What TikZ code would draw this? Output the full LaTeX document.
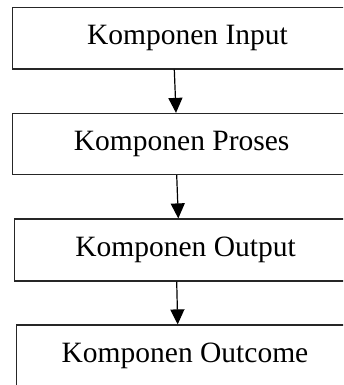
\documentclass[tikz,border=0pt]{standalone}
\usepackage{fontspec}
\setmainfont{Liberation Serif}
\usetikzlibrary{arrows.meta}
\begin{document}
\begin{tikzpicture}[x=1pt,y=1pt,
  box/.style={draw=black!85, line width=1.2pt, inner sep=0pt, rectangle,
    font=\fontsize{29.5pt}{34pt}\selectfont},
  flow/.style={line width=1.2pt, -{Triangle[length=15pt,width=14pt]}}]
\path[use as bounding box, clip] (0,0) rectangle (343,-385);
\fill[white] (0,0) rectangle (343,-385);
\node[box, minimum width=349.6pt, minimum height=61.7pt] (in) at (187.5,-38.15) {Komponen Input};
\node[box, minimum width=338pt, minimum height=61pt] (pr) at (181.7,-144) {Komponen Proses};
\node[box, minimum width=341.6pt, minimum height=62pt] (out) at (185.5,-250) {Komponen Output};
\node[box, minimum width=336.6pt, minimum height=62pt] (oc) at (185,-356) {Komponen Outcome};
\draw[flow] ([xshift=-13.2pt]in.south) -- ([xshift=-5.7pt]pr.north);
\draw[flow] ([xshift=-5pt]pr.south) -- ([xshift=-7.2pt]out.north);
\draw[flow] ([xshift=-8.8pt]out.south) -- ([xshift=-7.3pt]oc.north);
\end{tikzpicture}
\end{document}
